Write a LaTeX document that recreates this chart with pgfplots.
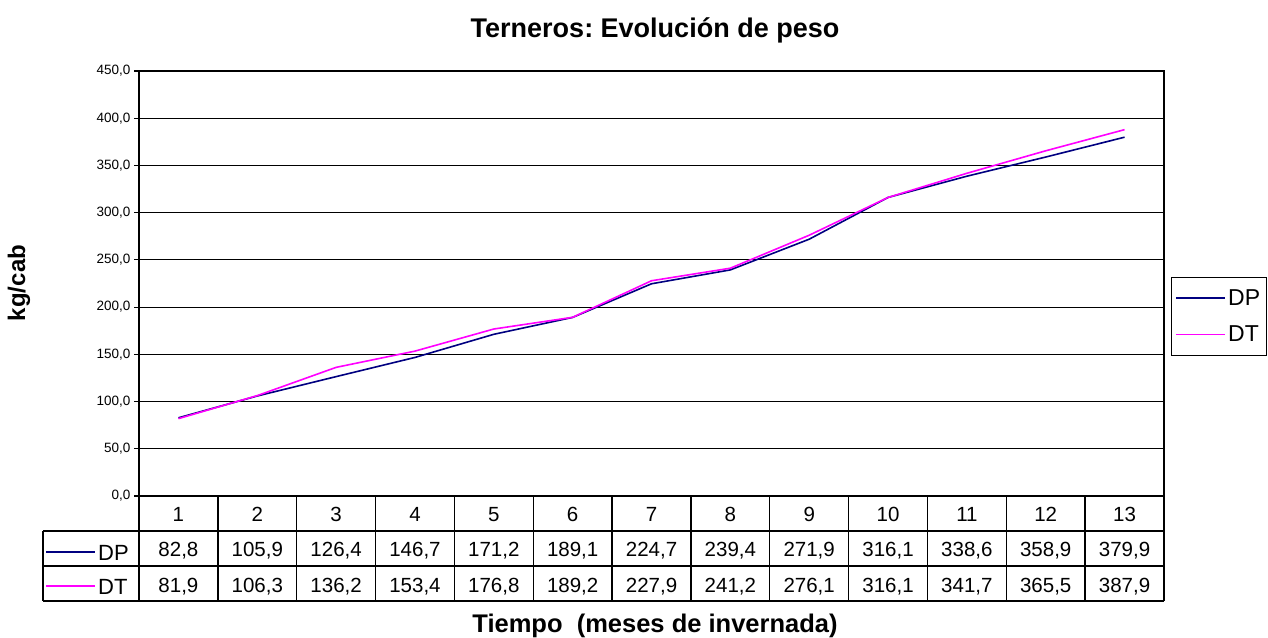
\documentclass[border=0pt]{standalone}
\usepackage{pgfplots}
\pgfplotsset{compat=1.18}
\usepackage{pgfplotstable}
\usepackage{fontspec}
\setmainfont{Liberation Sans}
\frenchspacing
\definecolor{dpcol}{RGB}{0,0,128}
\definecolor{dtcol}{RGB}{255,0,255}
\pgfplotstableread{
x DP DT
1 82.8 81.9
2 105.9 106.3
3 126.4 136.2
4 146.7 153.4
5 171.2 176.8
6 189.1 189.2
7 224.7 227.9
8 239.4 241.2
9 271.9 276.1
10 316.1 316.1
11 338.6 341.7
12 358.9 365.5
13 379.9 387.9
}\datatable
\begin{document}
\begin{tikzpicture}
\useasboundingbox (0pt,0pt) rectangle (1268pt,637pt);
\begin{axis}[
  at={(139pt,141pt)}, anchor=south west,
  width=1025pt, height=425pt, scale only axis,
  xmin=0.5, xmax=13.5, ymin=0, ymax=450,
  xtick=\empty,
  ytick distance=50,
  ymajorgrids, major grid style={black, line width=1.2pt},
  axis line style={black, line width=1.6pt},
  tick align=outside, ytick pos=left, major tick length=5pt,
  ytick style={black, line width=1.2pt},
  yticklabel style={font=\fontsize{13.5}{13.5}\selectfont,
    /pgf/number format/fixed, /pgf/number format/fixed zerofill,
    /pgf/number format/precision=1, /pgf/number format/use comma,
    /pgf/number format/assume math mode=true},
  legend style={at={(axis description cs:1.0068,0.5153)}, anchor=north west,
    draw=black, line width=1.2pt, font=\fontsize{23}{23}\selectfont,
    row sep=15pt, inner xsep=4pt, inner ysep=10pt},
  legend cell align=left,
  legend image code/.code={\draw[#1, line width=1.6pt] (0pt,0pt) -- (49pt,0pt);},
]
\addplot[dpcol, line width=1.6pt] table[x=x,y=DP]{\datatable};
\addlegendentry{DP}
\addplot[dtcol, line width=1.6pt] table[x=x,y=DT]{\datatable};
\addlegendentry{DT}
\end{axis}
% data table below the axis
\foreach \k in {0,...,13} {
  \pgfmathsetmacro\xx{139+\k*1025/13}
  \draw[line width=1.4pt] (\xx pt,141pt) -- (\xx pt,36pt);
}
\draw[line width=1.4pt] (43pt,106pt) -- (1164pt,106pt);
\draw[line width=1.4pt] (43pt,71pt) -- (1164pt,71pt);
\draw[line width=1.4pt] (43pt,36pt) -- (1164pt,36pt);
\draw[line width=1.4pt] (43pt,106pt) -- (43pt,36pt);
\draw[dpcol, line width=1.6pt] (46pt,85pt) -- (95pt,85pt);
\draw[dtcol, line width=1.6pt] (46pt,51pt) -- (95pt,51pt);
\node[anchor=base west, inner sep=0pt, font=\fontsize{22}{22}\selectfont] at (98pt,77pt) {DP};
\node[anchor=base west, inner sep=0pt, font=\fontsize{22}{22}\selectfont] at (98pt,43pt) {DT};
\foreach \i in {0,...,12} {
  \pgfmathsetmacro\xc{139+(\i+0.5)*1025/13}
  \pgfplotstablegetelem{\i}{x}\of\datatable
  \node[anchor=base, inner sep=0pt, font=\fontsize{20.5}{20.5}\selectfont] at (\xc pt,115pt) {\pgfmathprintnumber[int detect,assume math mode=true]{\pgfplotsretval}};
  \pgfplotstablegetelem{\i}{DP}\of\datatable
  \node[anchor=base, inner sep=0pt, font=\fontsize{20.5}{20.5}\selectfont] at (\xc pt,80.5pt) {\pgfmathprintnumber[fixed,fixed zerofill,precision=1,use comma,assume math mode=true]{\pgfplotsretval}};
  \pgfplotstablegetelem{\i}{DT}\of\datatable
  \node[anchor=base, inner sep=0pt, font=\fontsize{20.5}{20.5}\selectfont] at (\xc pt,45pt) {\pgfmathprintnumber[fixed,fixed zerofill,precision=1,use comma,assume math mode=true]{\pgfplotsretval}};
}
\node[anchor=base, font=\bfseries\fontsize{27}{27}\selectfont] at (655pt,599pt) {Terneros: Evolución de peso};
\node[anchor=base, font=\bfseries\fontsize{25.5}{25.5}\selectfont] at (655pt,5pt) {Tiempo\ \ (meses de invernada)};
\node[anchor=base, rotate=90, font=\bfseries\fontsize{24}{24}\selectfont] at (25pt,354pt) {kg/cab};
\end{tikzpicture}
\end{document}
